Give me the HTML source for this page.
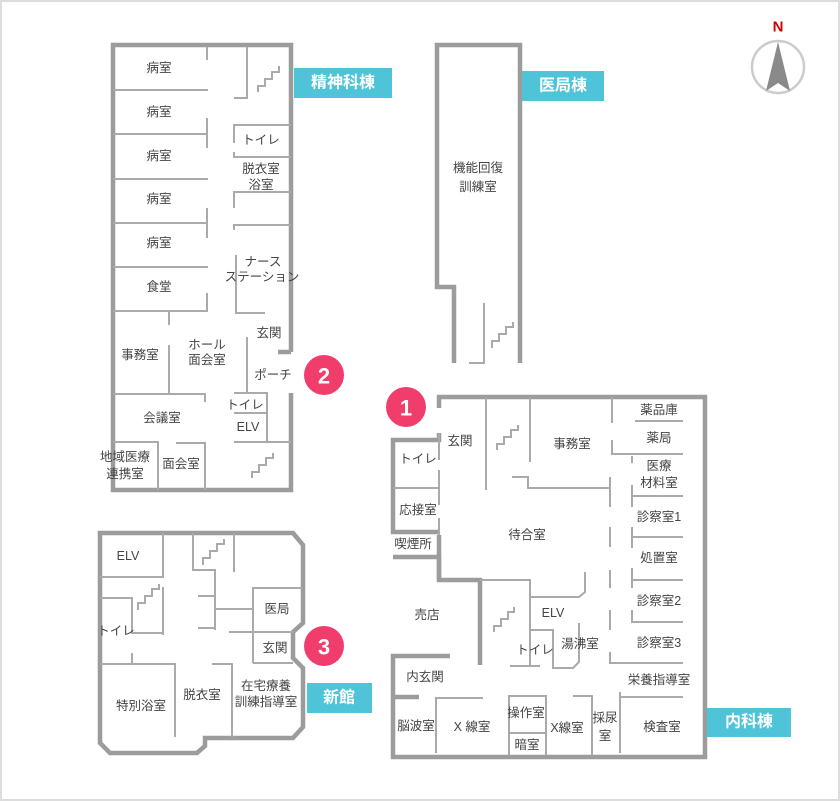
<!DOCTYPE html>
<html><head><meta charset="utf-8"><style>
html,body{margin:0;padding:0;background:#fff}
svg{display:block}
text{font-family:"Liberation Sans","Noto Sans CJK JP",sans-serif;font-size:12.5px;fill:#444;text-anchor:middle;dominant-baseline:central}
.t{stroke:#aaa;stroke-width:2;fill:none}
.o{stroke:#9c9c9c;stroke-width:4.5;fill:none;stroke-linejoin:miter}
.lb{fill:#fff;font-size:16px;font-weight:bold}
</style></head><body>
<svg width="840" height="801" viewBox="0 0 840 801" xmlns="http://www.w3.org/2000/svg">
<rect x="1" y="1" width="838" height="799" fill="#fff" stroke="#ddd" stroke-width="2"/>

<!-- ===== 精神科棟 ===== -->
<path class="o" d="M291,352 V45 H113 V490 H291 V393"/>
<path class="o" d="M291,352 H278"/>
<g class="t">
<path d="M113,90 H208 M113,134 H208 M113,179 H208 M113,223 H208 M113,267 H208 M113,311 H208"/>
<path d="M207,47 V60 M207,118 V148 M207,208 V238 M207,293 V310"/>
<path d="M247,47 V98 H234"/>
<path d="M234,143 V125 H291 M234,152 V157 H291 M234,208 V192 H291 M234,230 V225 H291"/>
<path d="M236,255 V313 H265"/>
<path d="M247,337 V393 M234,393 H267 V442 M234,413 H267 M234,442 H291"/>
<path d="M169,311 V325 M169,345 V393 M113,394 H205 V402"/>
<path d="M113,442 H158 V490 M176,443 H205 V490"/>
<path d="M258,92 V86 H265 V79 H272 V72 H279 V66 M252,478 V472 H259 V465 H266 V458 H273 V453"/>
</g>
<text x="159" y="68">病室</text><text x="159" y="112">病室</text><text x="159" y="156">病室</text>
<text x="159" y="199">病室</text><text x="159" y="243">病室</text><text x="159" y="287">食堂</text>
<text x="261" y="140">トイレ</text><text x="261" y="169">脱衣室</text><text x="261" y="185">浴室</text>
<text x="263" y="262">ナース</text><text x="262" y="277">ステーション</text>
<text x="269" y="333">玄関</text><text x="207" y="345">ホール</text><text x="207" y="360">面会室</text>
<text x="140" y="355">事務室</text><text x="273" y="375">ポーチ</text><text x="162" y="418">会議室</text>
<text x="245" y="405">トイレ</text><text x="248" y="427">ELV</text>
<text x="125" y="457">地域医療</text><text x="125" y="474">連携室</text><text x="181" y="464">面会室</text>
<rect x="294" y="68" width="98" height="30" fill="#4fc3d7"/><text class="lb" x="343" y="83">精神科棟</text>
<circle cx="324" cy="375" r="20" fill="#f03d6c"/><text x="324" y="376" style="fill:#fff;font-size:22px;font-weight:bold">2</text>

<!-- ===== 医局棟 ===== -->
<path class="o" d="M454,363 V287 H437 V45 H520 V363"/>
<g class="t"><path d="M484,303 V363 H469 M492,348 V341 H499 V334 H506 V327 H513 V322"/></g>
<text x="478" y="168">機能回復</text><text x="478" y="187">訓練室</text>
<rect x="522" y="71" width="82" height="30" fill="#4fc3d7"/><text class="lb" x="563" y="86">医局棟</text>

<!-- compass -->
<text x="778" y="27" style="fill:#d40000;font-weight:bold;font-size:15px">N</text>
<circle cx="778" cy="67" r="26" fill="none" stroke="#ccc" stroke-width="2.5"/>
<path d="M778,42 L766,91 L778,83 L790,91 Z" fill="#8a8a8a"/>

<!-- ===== 内科棟 ===== -->
<path class="o" d="M439,408 V397 H705 V757 H393 V656 H450"/>
<path class="o" d="M393,697 H419"/>
<path class="o" d="M439,433 V440 H393 V532 H439 M393,557 H439 V580 H480 V665"/>
<path class="o" d="M439,535 V580"/>
<g class="t">
<path d="M439,460 V433 M439,470 V505 M439,518 V535 M393,488 H439"/>
<path d="M486,397 V490 M530,397 V462"/>
<path d="M497,450 V444 H504 V437 H511 V430 H518 V425"/>
<path d="M512,477 H528 V488 H610 M610,477 V507 M610,527 V547 M610,570 V588 M610,610 V630 M610,652 V663 H683"/>
<path d="M612,397 V423 M612,440 V454 H683 M635,421 H683"/>
<path d="M632,456 V463 M632,485 V507 M632,527 V548 M632,568 V588 M632,610 V622 H683 M632,496 H683 M632,537 H683 M632,580 H683"/>
<path d="M620,753 V692 M620,697 H683"/>
<path d="M480,580 H530 V665 M585,572 V592 L579,597 H530"/>
<path d="M530,630 H553 V668 H573 L579,662 V623 M510,666 H540"/>
<path d="M494,632 V626 H501 V619 H508 V612 H514 V607"/>
<path d="M436,753 V698 H483 M509,755 V696 H546 V755 M509,733 H546 M573,696 H592 V755"/>
</g>
<text x="460" y="441">玄関</text><text x="572" y="444">事務室</text>
<text x="659" y="410">薬品庫</text><text x="659" y="438">薬局</text>
<text x="659" y="466">医療</text><text x="659" y="483">材料室</text>
<text x="659" y="517">診察室1</text><text x="659" y="558">処置室</text>
<text x="659" y="601">診察室2</text><text x="659" y="643">診察室3</text>
<text x="659" y="680">栄養指導室</text><text x="662" y="727">検査室</text>
<text x="418" y="459">トイレ</text><text x="418" y="510">応接室</text><text x="413" y="544">喫煙所</text>
<text x="527" y="535">待合室</text><text x="427" y="615">売店</text><text x="553" y="613">ELV</text>
<text x="580" y="644">湯沸室</text><text x="535" y="650">トイレ</text>
<text x="425" y="677">内玄関</text><text x="416" y="726">脳波室</text><text x="472" y="727">X 線室</text>
<text x="526" y="713">操作室</text><text x="527" y="745">暗室</text><text x="567" y="728">X線室</text>
<text x="605" y="718">採尿</text><text x="605" y="736">室</text>
<rect x="707" y="708" width="84" height="29" fill="#4fc3d7"/><text class="lb" x="749" y="722">内科棟</text>
<circle cx="406" cy="407" r="20" fill="#f03d6c"/><text x="406" y="408" style="fill:#fff;font-size:22px;font-weight:bold">1</text>

<!-- ===== 新館 ===== -->
<path class="o" d="M100,533 H293 L303,545 V623 L293,632 V658 L303,668 V727 L293,738 H205 V746 L197,753 H110 L100,743 Z"/>
<g class="t">
<path d="M163,533 V577 H100"/>
<path d="M100,598 H132 V633 H162 M163,587 V635"/>
<path d="M193,533 V570 H215 V630 M198,596 H215 M198,628 H215 M215,609 H253 M234,533 V572"/>
<path d="M253,663 V588 H303 M229,632 H293 M253,663 H293"/>
<path d="M100,664 H175 V737 M132,653 V664 M212,664 H232 V737"/>
<path d="M203,565 V558 H210 V551 H217 V544 H224 V539"/>
<path d="M138,610 V603 H145 V596 H152 V589 H159 V584"/>
</g>
<text x="128" y="556">ELV</text><text x="116" y="631">トイレ</text><text x="277" y="609">医局</text>
<text x="275" y="648">玄関</text><text x="141" y="706">特別浴室</text><text x="202" y="695">脱衣室</text>
<text x="266" y="686">在宅療養</text><text x="266" y="702">訓練指導室</text>
<rect x="307" y="683" width="65" height="30" fill="#4fc3d7"/><text class="lb" x="339" y="698">新館</text>
<circle cx="324" cy="646" r="20" fill="#f03d6c"/><text x="324" y="647" style="fill:#fff;font-size:22px;font-weight:bold">3</text>
</svg>
</body></html>
